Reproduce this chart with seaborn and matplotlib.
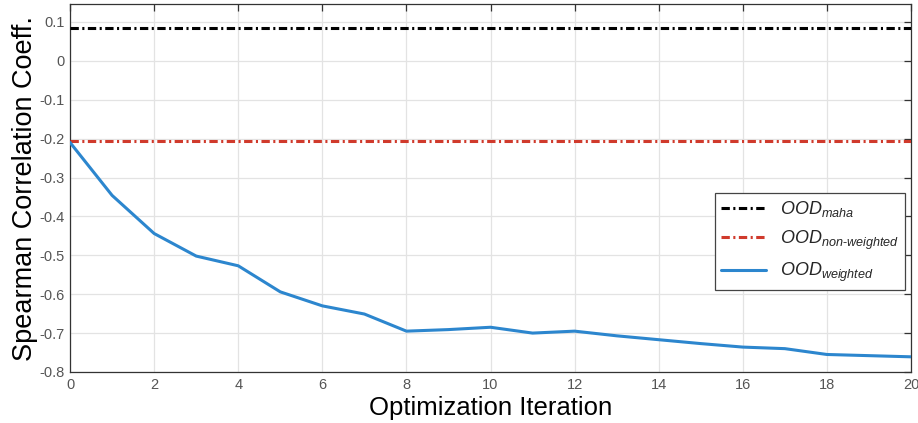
import matplotlib
matplotlib.use('Agg')
import matplotlib.pyplot as plt
import pandas as pd
import seaborn as sns

# values
iterations = list(range(21))
ood_weighted = [-0.21, -0.346, -0.444, -0.502, -0.527, -0.594, -0.630, -0.651, -0.695, -0.691,
                -0.685, -0.700, -0.695, -0.707, -0.717, -0.727, -0.736, -0.740, -0.755, -0.758, -0.761]
ood_maha = 0.085
ood_non_weighted = -0.205
y_ticks = [-0.8, -0.7, -0.6, -0.5, -0.4, -0.3, -0.2, -0.1, 0, 0.1]
y_tick_labels = ['-0.8', '-0.7', '-0.6', '-0.5', '-0.4', '-0.3', '-0.2', '-0.1', '0', '0.1']
x_ticks = list(range(0, 21, 2))

sns.set_style('white')
plt.rcParams['font.family'] = ['Liberation Sans', 'DejaVu Sans']
plt.rcParams['mathtext.fontset'] = 'custom'
plt.rcParams['mathtext.it'] = 'Liberation Sans:italic'
plt.rcParams['mathtext.rm'] = 'Liberation Sans'
plt.rcParams['axes.unicode_minus'] = False
plt.rcParams['lines.scale_dashes'] = False

df = pd.DataFrame({'iteration': iterations, 'rho': ood_weighted})

fig, ax = plt.subplots(figsize=(9.18, 4.23), dpi=100)
fig.subplots_adjust(left=0.0763, right=0.9924, top=0.9905, bottom=0.1206)

ax.axhline(ood_maha, color='black', lw=2.2, dashes=(6, 2.5, 1.5, 2.5),
           label=r'$\mathit{OOD}_{\mathit{maha}}$', zorder=3)
ax.axhline(ood_non_weighted, color='#D03A2C', lw=2.2, dashes=(6, 2.5, 1.5, 2.5),
           label=r'$\mathit{OOD}_{\mathit{non}\text{-}\mathit{weighted}}$', zorder=3)
sns.lineplot(data=df, x='iteration', y='rho', ax=ax, color='#2C86CE', lw=2.2,
             label=r'$\mathit{OOD}_{\mathit{weighted}}$', zorder=4)

ax.set_xlim(0, 20)
ax.set_ylim(-0.8, 0.146)
ax.set_xticks(x_ticks)
ax.set_yticks(y_ticks)
ax.set_yticklabels(y_tick_labels)
ax.grid(True, color='#E3E3E3', lw=0.9)
ax.set_axisbelow(True)
ax.tick_params(direction='in', top=True, right=True, length=5, width=0.9,
               color='#333333', labelcolor='#555555', labelsize=10.5, pad=4)
for s in ax.spines.values():
    s.set_color('#333333')
    s.set_linewidth(0.9)

ax.set_xlabel('Optimization Iteration', fontsize=18.5, color='black', labelpad=3)
ax.set_ylabel('Spearman Correlation Coeff.', fontsize=19.5, color='black', labelpad=1)

leg = ax.legend(loc='upper right', bbox_to_anchor=(0.993, 0.486), borderaxespad=0,
                fontsize=13, fancybox=False, framealpha=1, edgecolor='#444444',
                handlelength=2.5, labelspacing=0.5, borderpad=0.35, handletextpad=0.75)
leg.get_frame().set_linewidth(0.9)

fig.savefig('out.png', dpi=100)
